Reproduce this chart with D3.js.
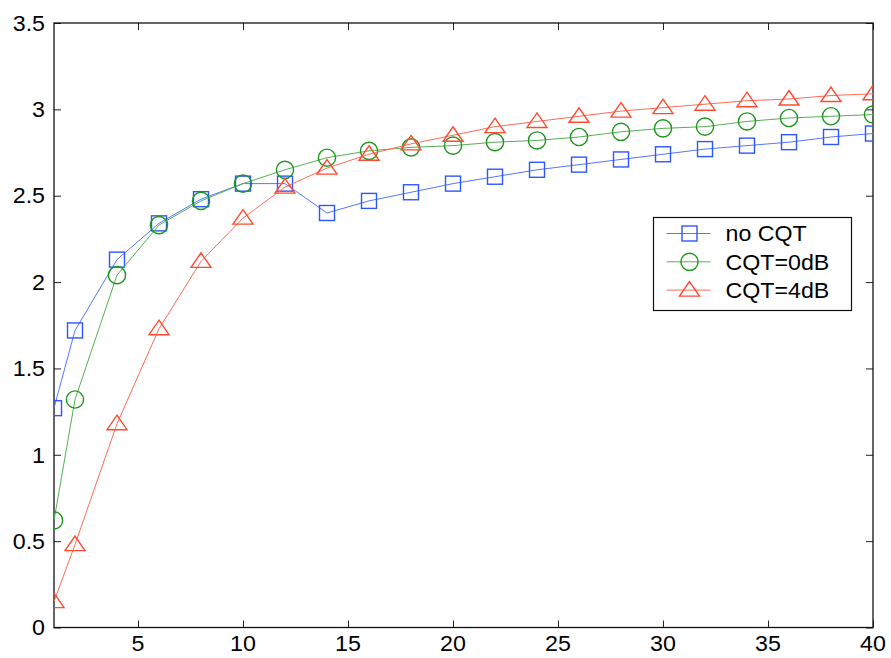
<!DOCTYPE html>
<html>
<head>
<meta charset="utf-8">
<script src="https://cdnjs.cloudflare.com/ajax/libs/d3/7.8.5/d3.min.js"></script>
<style>
  body { margin: 0; background: #fff; }
  svg { display: block; font-family: "Liberation Sans", Arial, Helvetica, sans-serif; }
</style>
</head>
<body>
<div id="chart"></div>
<script>
// x positions (same for all three series)
var xs = [1, 2, 4, 6, 8, 10, 12, 14, 16, 18, 20, 22, 24, 26, 28, 30, 32, 34, 36, 38, 40]

// values
var noCQT = [1.27, 1.72, 2.13, 2.34, 2.48, 2.57, 2.57, 2.40, 2.47, 2.52, 2.57, 2.61, 2.65, 2.68, 2.71, 2.74, 2.77, 2.79, 2.81, 2.84, 2.86]
var cqt0 = [0.62, 1.32, 2.04, 2.33, 2.47, 2.57, 2.65, 2.72, 2.76, 2.78, 2.79, 2.81, 2.82, 2.84, 2.87, 2.89, 2.90, 2.93, 2.95, 2.96, 2.97]
var cqt4 = [0.15, 0.48, 1.18, 1.73, 2.12, 2.37, 2.55, 2.66, 2.74, 2.80, 2.85, 2.90, 2.93, 2.96, 2.99, 3.01, 3.03, 3.05, 3.06, 3.08, 3.09]

var seriesNames = ['no CQT', 'CQT=0dB', 'CQT=4dB']
var xTicks = [5, 10, 15, 20, 25, 30, 35, 40]
var yTicks = [0, 0.5, 1, 1.5, 2, 2.5, 3, 3.5]

var W = 891, H = 658
var margin = { left: 54, right: 18, top: 23, bottom: 30.5 }
var pw = W - margin.left - margin.right
var ph = H - margin.top - margin.bottom
var STRETCH = 1.08 // the original text is drawn a bit wider than Arial

var svg = d3.select('#chart').append('svg')
  .attr('width', W)
  .attr('height', H)

var g = svg.append('g')
  .attr('transform', 'translate(' + margin.left + ',' + margin.top + ')')

var x = d3.scaleLinear().domain([1, 40]).range([0, pw])
var y = d3.scaleLinear().domain([0, 3.5]).range([ph, 0])

g.append('defs').append('clipPath').attr('id', 'plotclip')
  .append('rect').attr('width', pw).attr('height', ph)

function label(parent, px, py, txt, anchor, dy) {
  // text, stretched horizontally around its anchor point
  var t = parent.append('g').attr('transform', 'translate(' + px + ',' + py + ')')
  t.append('text')
    .attr('transform', 'scale(' + STRETCH + ',1)')
    .attr('text-anchor', anchor)
    .attr('dy', dy)
    .attr('fill', '#000')
    .style('font-size', '21.5px')
    .text(txt)
  return t
}

// axes: inward ticks on all four sides, labels drawn separately
function styleAxis(sel) {
  sel.select('.domain').remove()
  sel.selectAll('.tick line').attr('stroke', '#222').attr('stroke-width', 1)
  sel.selectAll('.tick text').remove()
}

g.append('g').attr('transform', 'translate(0,' + ph + ')')
  .call(d3.axisBottom(x).tickValues(xTicks).tickSizeInner(-7).tickSizeOuter(0))
  .call(styleAxis)

g.append('g')
  .call(d3.axisTop(x).tickValues(xTicks).tickSizeInner(-7).tickSizeOuter(0))
  .call(styleAxis)

g.append('g')
  .call(d3.axisLeft(y).tickValues(yTicks).tickSizeInner(-7).tickSizeOuter(0))
  .call(styleAxis)

g.append('g').attr('transform', 'translate(' + pw + ',0)')
  .call(d3.axisRight(y).tickValues(yTicks).tickSizeInner(-7).tickSizeOuter(0))
  .call(styleAxis)

var fmt = d3.format('~g')
xTicks.forEach(function (t) {
  label(g, x(t), ph + 16, fmt(t), 'middle', '0.36em')
})
yTicks.forEach(function (t) {
  label(g, -9, y(t), fmt(t), 'end', '0.36em')
})

g.append('rect')
  .attr('width', pw)
  .attr('height', ph)
  .attr('fill', 'none')
  .attr('stroke', '#111')
  .attr('stroke-width', 1.3)

var colors = ['#2f55ff', '#1c961c', '#ff4a30']
var lineColors = ['#5577ff', '#55b055', '#ff6a55']
var shapes = ['square', 'circle', 'triangle']

function marker(sel, shape, color) {
  // draw an open marker centred on 0,0
  if (shape === 'square') {
    sel.append('rect').attr('x', -7.5).attr('y', -7.5).attr('width', 15).attr('height', 15)
  } else if (shape === 'circle') {
    sel.append('circle').attr('r', 8.6)
  } else {
    sel.append('path').attr('d', 'M0,-8.5 L10,6 L-10,6 Z')
  }
  sel.selectAll('*')
    .attr('fill', 'none')
    .attr('stroke', color)
    .attr('stroke-width', 1.4)
}

var plot = g.append('g').attr('clip-path', 'url(#plotclip)')
var line = d3.line().x(function (d) { return x(d[0]) }).y(function (d) { return y(d[1]) })

var allSeries = [noCQT, cqt0, cqt4]
allSeries.forEach(function (vals, i) {
  var pts = xs.map(function (xv, j) { return [xv, vals[j]] })
  plot.append('path')
    .datum(pts)
    .attr('d', line)
    .attr('fill', 'none')
    .attr('stroke', lineColors[i])
    .attr('stroke-width', 1)
  pts.forEach(function (p) {
    var m = plot.append('g').attr('transform', 'translate(' + x(p[0]) + ',' + y(p[1]) + ')')
    marker(m, shapes[i], colors[i])
  })
})

// legend
var lg = svg.append('g').attr('transform', 'translate(653.5,217.5)')
lg.append('rect')
  .attr('width', 198)
  .attr('height', 93)
  .attr('fill', '#fff')
  .attr('stroke', '#111')
  .attr('stroke-width', 1.2)

seriesNames.forEach(function (name, i) {
  var ly = 16 + i * 28.3
  lg.append('line')
    .attr('x1', 13).attr('x2', 57)
    .attr('y1', ly).attr('y2', ly)
    .attr('stroke', lineColors[i])
    .attr('stroke-width', 1)
  var m = lg.append('g').attr('transform', 'translate(36,' + ly + ')')
  marker(m, shapes[i], colors[i])
  label(lg, 72, ly, name, 'start', '0.36em')
})
</script>
</body>
</html>
